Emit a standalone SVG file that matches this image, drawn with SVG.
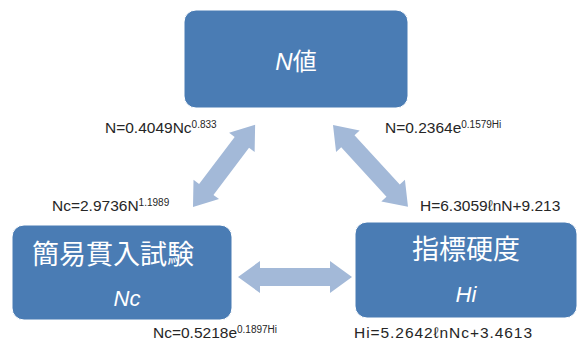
<svg xmlns="http://www.w3.org/2000/svg" width="579" height="345" viewBox="0 0 579 345">
<style>
.box{fill:#4a7cb4;stroke:#ffffff;stroke-width:1}
.arrow{fill:#a3b9d8}
.lbl{fill:#ffffff;font-family:"Liberation Sans","Noto Sans CJK JP",sans-serif;text-anchor:middle}
.it{font-style:italic}
.eq{fill:#262626;font-family:"Liberation Sans","DejaVu Sans",sans-serif;font-size:15.5px}
.sup{font-size:10px}
</style>
<rect width="579" height="345" fill="#ffffff"/>
<g id="connectors">
<polygon class="arrow" transform="translate(193,207) rotate(-52.9)" points="0,0 22,-16 22,-9 81,-9 81,-16 103,0 81,16 81,9 22,9 22,16"/>
<polygon class="arrow" transform="translate(333,125) rotate(47.5)" points="0,0 22,-16 22,-9 89,-9 89,-16 111,0 89,16 89,9 22,9 22,16"/>
<polygon class="arrow" transform="translate(238,277)" points="0,0 22,-16 22,-9 92,-9 92,-16 114,0 92,16 92,9 22,9 22,16"/>
</g>
<g id="node-n">
<rect class="box" x="184" y="10" width="224" height="98" rx="12"/>
<text class="lbl" x="296" y="70" font-size="24"><tspan class="it">N</tspan>値</text>
</g>
<g id="node-nc">
<rect class="box" x="12" y="225" width="220" height="95" rx="12"/>
<text class="lbl" x="113" y="264" font-size="27">簡易貫入試験</text>
<text class="lbl it" x="127" y="306" font-size="22">Nc</text>
</g>
<g id="node-hi">
<rect class="box" x="355" y="222" width="222" height="96" rx="12"/>
<text class="lbl" x="466" y="259" font-size="27">指標硬度</text>
<text class="lbl it" x="466" y="302" font-size="22">Hi</text>
</g>
<g id="equations">
<text class="eq" x="105" y="133">N=0.4049Nc<tspan class="sup" dy="-5.5">0.833</tspan></text>
<text class="eq" x="385" y="133">N=0.2364e<tspan class="sup" dy="-5.5">0.1579Hi</tspan></text>
<text class="eq" x="52" y="211">Nc=2.9736N<tspan class="sup" dy="-5.5">1.1989</tspan></text>
<text class="eq" x="420" y="211">H=6.3059ℓnN+9.213</text>
<text class="eq" x="153" y="338">Nc=0.5218e<tspan class="sup" dy="-5.5">0.1897Hi</tspan></text>
<text class="eq" x="354" y="338" textLength="178" lengthAdjust="spacing">Hi=5.2642ℓnNc+3.4613</text>
</g>
</svg>
